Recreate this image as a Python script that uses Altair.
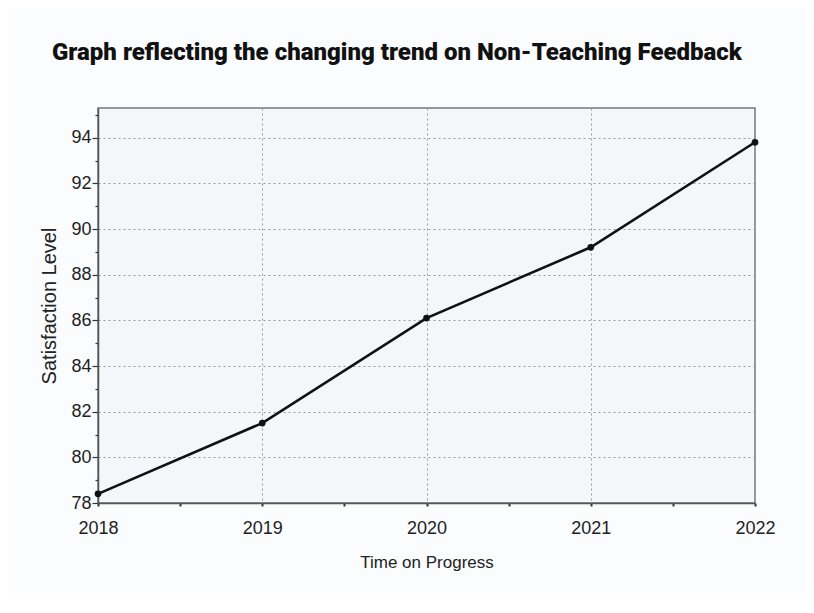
import altair as alt
import pandas as pd

years = [2018, 2019, 2020, 2021, 2022]
satisfaction = [78.4, 81.5, 86.1, 89.2, 93.8]

df = pd.DataFrame({"Year": years, "Satisfaction": satisfaction})

x_ticks = [2018 + 0.5 * i for i in range(9)]
y_ticks = list(range(78, 96))

x_axis = alt.Axis(
    values=x_ticks,
    labelExpr="datum.value % 1 === 0 ? format(datum.value, 'd') : ''",
    title="Time on Progress",
    titleFont="Liberation Sans", titleFontSize=17, titleFontWeight="normal",
    titleColor="#222", titlePadding=17,
    labelFont="Liberation Sans", labelFontSize=18, labelColor="#222",
    labelPadding=13, labelFlush=False,
    grid=True,
    gridOpacity={"condition": {"test": "datum.value % 1 === 0 && datum.value > 2018 && datum.value < 2022", "value": 1}, "value": 0},
    gridDash=[2, 3], gridColor="#9a9a9a", gridWidth=1,
    tickSize=3, tickColor="#333", tickWidth=2,
    domainColor="#555", domainWidth=1.5,
)

y_axis = alt.Axis(
    values=y_ticks,
    labelExpr="datum.value % 2 === 0 ? format(datum.value, 'd') : ''",
    title="Satisfaction Level",
    titleFont="Liberation Sans", titleFontSize=20, titleFontWeight="normal",
    titleColor="#222", titlePadding=11,
    labelFont="Liberation Sans", labelFontSize=18, labelColor="#222",
    labelPadding=1,
    grid=True,
    gridOpacity={"condition": {"test": "datum.value % 2 === 0 && datum.value > 78", "value": 1}, "value": 0},
    gridDash=[2, 3], gridColor="#9a9a9a", gridWidth=1,
    tickSize={"condition": {"test": "datum.value % 2 === 0", "value": 6}, "value": 3},
    tickColor="#333", tickWidth=1.2,
    domainColor="#555", domainWidth=1.5,
)

base = alt.Chart(df).encode(
    x=alt.X("Year:Q", scale=alt.Scale(domain=[2018, 2022], nice=False, zero=False), axis=x_axis),
    y=alt.Y("Satisfaction:Q", scale=alt.Scale(domain=[78, 95.3], nice=False, zero=False), axis=y_axis),
)

line = base.mark_line(color="#111", strokeWidth=2.6)
pts = base.mark_point(filled=True, color="#111", size=45, opacity=1)

chart = (line + pts).properties(
    width=657,
    height=395,
    padding={"left": 90, "top": 100, "right": 51, "bottom": 90},
    autosize=alt.AutoSizeParams(type="none"),
    background="#fbfcfd",
    title=alt.TitleParams(
        "Graph reflecting the changing trend on Non-Teaching Feedback",
        anchor="start", frame="group", dx=-46, offset=43,
        font="Roboto", fontWeight=900, fontSize=24, color="#111",
    ),
).configure_view(
    fill="#f4f6f9", stroke="#777", strokeWidth=1.5,
)

chart.save("out.html", embed_options={"renderer": "svg", "actions": False})
